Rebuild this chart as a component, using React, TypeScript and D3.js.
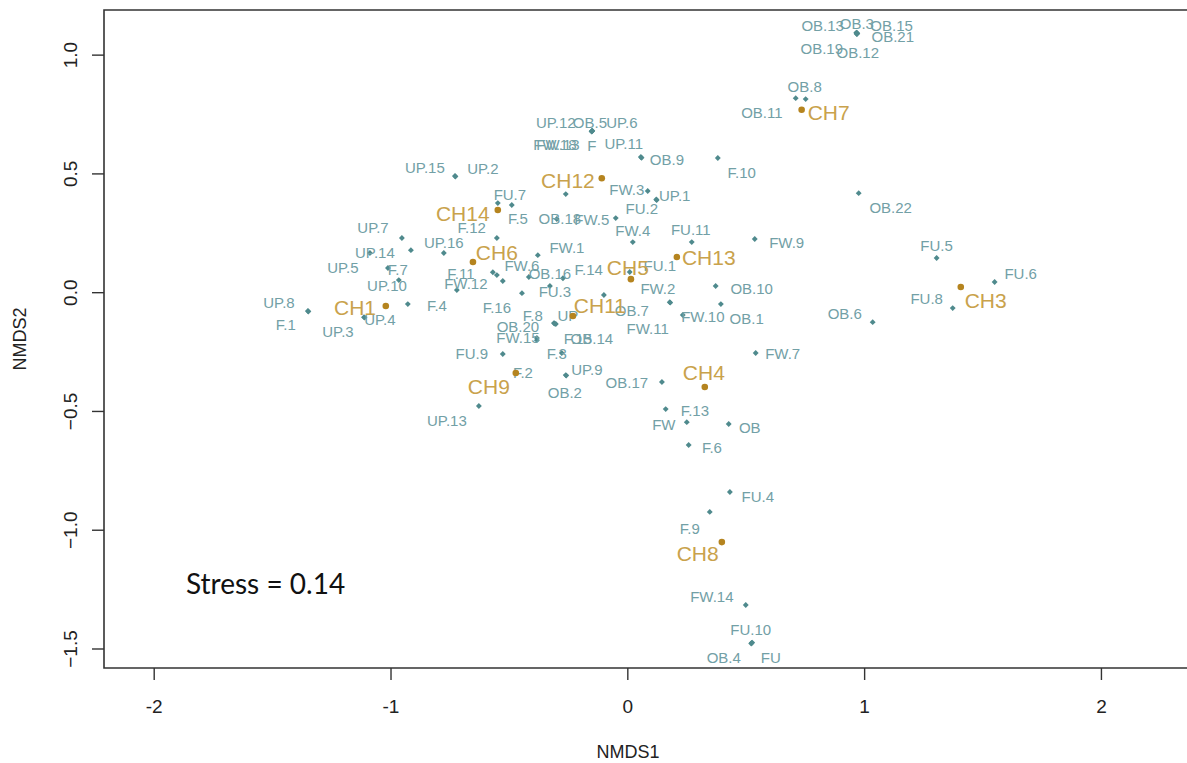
import React from "react";
import * as d3 from "d3";

// NMDS site scores: [label, NMDS1, NMDS2, label NMDS1, label NMDS2]
const sites: [string, number, number, number, number][] = [
  ["OB.13", 0.965, 1.095, 0.823, 1.126],
  ["OB.3", 0.967, 1.093, 0.967, 1.134],
  ["OB.15", 0.969, 1.092, 1.114, 1.126],
  ["OB.21", 0.968, 1.09, 1.119, 1.08],
  ["OB.19", 0.966, 1.091, 0.819, 1.029],
  ["OB.12", 0.967, 1.089, 0.971, 1.012],
  ["OB.8", 0.751, 0.815, 0.747, 0.869],
  ["OB.11", 0.709, 0.819, 0.566, 0.76],
  ["UP.12", -0.152, 0.68, -0.304, 0.718],
  ["OB.5", -0.15, 0.682, -0.16, 0.718],
  ["UP.6", -0.153, 0.679, -0.025, 0.718],
  ["FW.13", -0.151, 0.681, -0.295, 0.625],
  ["F", -0.152, 0.678, -0.152, 0.621],
  ["UP.11", 0.055, 0.571, -0.017, 0.63],
  ["OB.9", 0.058, 0.568, 0.165, 0.562],
  ["F.10", 0.38, 0.567, 0.481, 0.508],
  ["UP.15", -0.73, 0.491, -0.857, 0.529],
  ["UP.2", -0.728, 0.489, -0.612, 0.524],
  ["FW.3", 0.084, 0.428, -0.004, 0.436],
  ["UP.1", 0.122, 0.39, 0.198, 0.411],
  ["FU.2", 0.12, 0.392, 0.059, 0.356],
  ["FU.7", -0.549, 0.377, -0.498, 0.415],
  ["F.5", -0.49, 0.369, -0.464, 0.314],
  ["F.12", -0.553, 0.23, -0.659, 0.276],
  ["FW.18", -0.262, 0.415, -0.308, 0.625],
  ["OB.18", -0.3, 0.31, -0.287, 0.314],
  ["FW.5", -0.051, 0.314, -0.152, 0.306],
  ["FW.4", 0.021, 0.213, 0.021, 0.263],
  ["FU.11", 0.27, 0.213, 0.266, 0.268],
  ["FW.9", 0.536, 0.226, 0.671, 0.213],
  ["OB.22", 0.975, 0.419, 1.11, 0.36],
  ["FU.5", 1.304, 0.146, 1.304, 0.2],
  ["FU.6", 1.549, 0.045, 1.659, 0.082],
  ["FU.8", 1.372, -0.065, 1.262, -0.023],
  ["OB.6", 1.034, -0.124, 0.916, -0.086],
  ["UP.7", -0.954, 0.23, -1.076, 0.276],
  ["UP.14", -0.916, 0.179, -1.068, 0.171],
  ["UP.16", -0.777, 0.167, -0.777, 0.213],
  ["UP.5", -1.089, 0.167, -1.203, 0.104],
  ["F.7", -1.013, 0.104, -0.971, 0.099],
  ["UP.10", -0.967, 0.053, -1.017, 0.032],
  ["UP.8", -1.351, -0.077, -1.473, -0.04],
  ["F.1", -1.349, -0.079, -1.444, -0.136],
  ["UP.4", -1.114, -0.103, -1.047, -0.111],
  ["UP.3", -1.112, -0.105, -1.224, -0.162],
  ["F.4", -0.929, -0.048, -0.806, -0.056],
  ["F.11", -0.57, 0.086, -0.705, 0.082],
  ["FW.12", -0.722, 0.011, -0.684, 0.04],
  ["FW.6", -0.553, 0.074, -0.447, 0.116],
  ["F.16", -0.528, 0.049, -0.553, -0.061],
  ["F.8", -0.447, -0.002, -0.401, -0.094],
  ["FW.1", -0.38, 0.158, -0.257, 0.192],
  ["OB.16", -0.418, 0.066, -0.329, 0.082],
  ["F.14", -0.274, 0.061, -0.165, 0.099],
  ["FU.3", -0.329, 0.028, -0.308, 0.007],
  ["FU.1", 0.008, 0.087, 0.135, 0.116],
  ["FW.2", 0.177, -0.04, 0.127, 0.019],
  ["FW.11", 0.179, -0.042, 0.084, -0.149],
  ["OB.10", 0.371, 0.028, 0.523, 0.019],
  ["FW.10", 0.232, -0.094, 0.317, -0.099],
  ["OB.1", 0.393, -0.048, 0.502, -0.107],
  ["OB.7", -0.101, -0.01, 0.017, -0.073],
  ["UP", -0.312, -0.128, -0.253, -0.098],
  ["F.15", -0.31, -0.13, -0.211, -0.191],
  ["OB.14", -0.304, -0.132, -0.152, -0.191],
  ["OB.20", -0.384, -0.191, -0.464, -0.141],
  ["FW.15", -0.384, -0.2, -0.464, -0.187],
  ["FU.9", -0.528, -0.258, -0.659, -0.258],
  ["F.3", -0.279, -0.254, -0.3, -0.258],
  ["F.2", -0.473, -0.338, -0.443, -0.334],
  ["UP.9", -0.262, -0.347, -0.173, -0.322],
  ["OB.2", -0.26, -0.349, -0.266, -0.419],
  ["OB.17", 0.144, -0.376, -0.004, -0.38],
  ["UP.13", -0.629, -0.477, -0.764, -0.536],
  ["F.13", 0.16, -0.49, 0.283, -0.498],
  ["FW", 0.249, -0.545, 0.152, -0.553],
  ["OB", 0.426, -0.553, 0.515, -0.566],
  ["F.6", 0.257, -0.641, 0.355, -0.65],
  ["FW.7", 0.54, -0.254, 0.654, -0.258],
  ["FU.4", 0.431, -0.839, 0.549, -0.856],
  ["F.9", 0.346, -0.923, 0.262, -0.991],
  ["FW.14", 0.498, -1.315, 0.355, -1.277],
  ["FU.10", 0.523, -1.475, 0.519, -1.416],
  ["OB.4", 0.521, -1.477, 0.405, -1.534],
  ["FU", 0.525, -1.473, 0.604, -1.534],
];

// channel centroids: [label, NMDS1, NMDS2, label NMDS1, label NMDS2]
const channels: [string, number, number, number, number][] = [
  ["CH7", 0.734, 0.77, 0.848, 0.76],
  ["CH12", -0.11, 0.482, -0.253, 0.474],
  ["CH14", -0.549, 0.348, -0.697, 0.335],
  ["CH6", -0.654, 0.129, -0.553, 0.171],
  ["CH1", -1.022, -0.056, -1.152, -0.061],
  ["CH5", 0.013, 0.057, 0.0, 0.108],
  ["CH13", 0.207, 0.15, 0.342, 0.146],
  ["CH11", -0.232, -0.098, -0.118, -0.052],
  ["CH3", 1.406, 0.024, 1.511, -0.035],
  ["CH9", -0.473, -0.338, -0.587, -0.397],
  ["CH4", 0.325, -0.397, 0.321, -0.338],
  ["CH8", 0.397, -1.05, 0.295, -1.1],
];

const xTicks = [-2, -1, 0, 1, 2];
const yTicks = [-1.5, -1.0, -0.5, 0.0, 0.5, 1.0];
const xLim = [-2.212, 2.45];
const yLim = [-1.58, 1.19];
const stress = 0.14;

const W = 1187;
const H = 763;
const left = 104;
const top = 10;
const bottom = 668;
const right = 1208;

const siteDot = "#4f8a8d";
const siteText = "#72a0a6";
const chDot = "#b5841f";
const chText = "#c9a24c";
const axisCol = "#333";

export default function App() {
  const x = d3.scaleLinear().domain(xLim).range([left, right]);
  const y = d3.scaleLinear().domain(yLim).range([bottom, top]);
  const diamond = d3.symbol(d3.symbolDiamond2 || d3.symbolDiamond, 22)() as string;

  return (
    <svg
      width={W}
      height={H}
      style={{ position: "absolute", left: 0, top: 0, background: "#fff" }}
      fontFamily="Liberation Sans, Arial, sans-serif"
    >
      {/* plot box (right edge runs past the picture) */}
      <path
        d={`M${right},${top}H${left}V${bottom}H${right}`}
        fill="none"
        stroke={axisCol}
        strokeWidth={1.6}
      />

      {/* x axis */}
      {xTicks.map((t) => (
        <g key={"x" + t}>
          <line x1={x(t)} x2={x(t)} y1={bottom} y2={bottom + 12} stroke={axisCol} strokeWidth={1.4} />
          <text x={x(t)} y={706} textAnchor="middle" dominantBaseline="central" fontSize={19} fill="#222">
            {t}
          </text>
        </g>
      ))}
      <text x={628} y={752} textAnchor="middle" dominantBaseline="central" fontSize={18} fill="#222">
        NMDS1
      </text>

      {/* y axis */}
      {yTicks.map((t) => (
        <g key={"y" + t}>
          <line x1={left - 12} x2={left} y1={y(t)} y2={y(t)} stroke={axisCol} strokeWidth={1.4} />
          <text
            transform={`translate(70,${y(t)}) rotate(-90)`}
            textAnchor="middle"
            dominantBaseline="central"
            fontSize={19}
            fill="#222"
          >
            {d3.format(".1f")(t)}
          </text>
        </g>
      ))}
      <text
        transform={`translate(20,${(top + bottom) / 2}) rotate(-90)`}
        textAnchor="middle"
        dominantBaseline="central"
        fontSize={18}
        fill="#222"
      >
        NMDS2
      </text>

      {/* sites */}
      {sites.map(([name, sx, sy]) => (
        <path key={"p" + name} d={diamond} transform={`translate(${x(sx)},${y(sy)})`} fill={siteDot} />
      ))}
      {sites.map(([name, , , lx, ly]) => (
        <text
          key={"t" + name}
          x={x(lx)}
          y={y(ly)}
          textAnchor="middle"
          dominantBaseline="central"
          fontSize={15}
          fill={siteText}
        >
          {name}
        </text>
      ))}

      {/* channel centroids */}
      {channels.map(([name, cx, cy]) => (
        <circle key={"c" + name} cx={x(cx)} cy={y(cy)} r={3.3} fill={chDot} />
      ))}
      {channels.map(([name, , , lx, ly]) => (
        <text
          key={"ct" + name}
          x={x(lx)}
          y={y(ly)}
          textAnchor="middle"
          dominantBaseline="central"
          fontSize={21}
          fill={chText}
        >
          {name}
        </text>
      ))}

      <text x={186} y={594} fontSize={28} fontFamily="Lato, 'Open Sans', sans-serif" fill="#111">
        {`Stress = ${stress}`}
      </text>
    </svg>
  );
}
